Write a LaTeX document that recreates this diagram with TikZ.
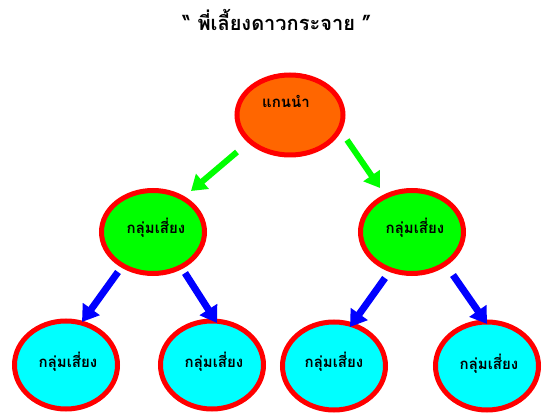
\documentclass[tikz,border=0pt]{standalone}
\usepackage{fontspec}
\newfontfamily\thaifont[Script=Thai]{Loma}
\usetikzlibrary{shapes.geometric,arrows.meta}
\definecolor{nodeorange}{RGB}{255,102,0}
\definecolor{nodegreen}{RGB}{0,255,0}
\definecolor{nodecyan}{RGB}{0,255,255}
\definecolor{bordred}{RGB}{255,0,0}
\definecolor{arrgreen}{RGB}{0,255,0}
\definecolor{arrblue}{RGB}{0,0,255}
\tikzset{
  blob/.style={ellipse, draw=bordred, line width=5pt, inner sep=0pt,
    font=\thaifont\bfseries\fontsize{15}{18}\selectfont},
  leader/.style={blob, fill=nodeorange, minimum width=106pt, minimum height=80pt},
  midgrp/.style={blob, fill=nodegreen, minimum width=103pt, minimum height=83pt},
  lowgrp/.style={blob, fill=nodecyan, minimum width=103pt, minimum height=88pt},
  garrow/.style={draw=arrgreen, line width=6pt, -{Triangle[width=19pt,length=15pt]}},
  barrow/.style={draw=arrblue, line width=7pt, -{Triangle[width=20pt,length=16pt]}},
  titletext/.style={font=\thaifont\bfseries\fontsize{20}{24}\selectfont}
}
\begin{document}
\begin{tikzpicture}[x=1pt,y=-1pt]
\useasboundingbox (0,0) rectangle (542,414);
\node[titletext] (title) at (277,20) {“ พี่เลี้ยงดาวกระจาย ”};
\node[leader] (top) at (290,115) {};
\node[midgrp] (gl) at (153,232) {};
\node[midgrp] (gr) at (412,232) {};
\node[lowgrp] (b1) at (66,365) {};
\node[lowgrp] (b2) at (212,365) {};
\node[lowgrp] (b3) at (334,366) {};
\node[lowgrp] (b4) at (487,366) {};
\node[font=\thaifont\bfseries\fontsize{15}{18}\selectfont] (ttop) at (286,101) {แกนนำ};
\node[font=\thaifont\bfseries\fontsize{15}{18}\selectfont] (tgl) at (156,228) {กลุ่มเสี่ยง};
\node[font=\thaifont\bfseries\fontsize{15}{18}\selectfont] (tgr) at (415,228) {กลุ่มเสี่ยง};
\node[font=\thaifont\bfseries\fontsize{15}{18}\selectfont] (tb1) at (68,362) {กลุ่มเสี่ยง};
\node[font=\thaifont\bfseries\fontsize{15}{18}\selectfont] (tb2) at (214,362) {กลุ่มเสี่ยง};
\node[font=\thaifont\bfseries\fontsize{15}{18}\selectfont] (tb3) at (334,362) {กลุ่มเสี่ยง};
\node[font=\thaifont\bfseries\fontsize{15}{18}\selectfont] (tb4) at (489,364) {กลุ่มเสี่ยง};
\coordinate (a1s) at (237,152); \coordinate (a1e) at (191,191);
\coordinate (a2s) at (347,140); \coordinate (a2e) at (380,188);
\coordinate (a3s) at (118,272); \coordinate (a3e) at (82,322);
\coordinate (a4s) at (185,273); \coordinate (a4e) at (217,323);
\coordinate (a5s) at (385,278); \coordinate (a5e) at (350,327);
\coordinate (a6s) at (453,275); \coordinate (a6e) at (487,324);
\draw[garrow] (a1s) -- (a1e);
\draw[garrow] (a2s) -- (a2e);
\draw[barrow] (a3s) -- (a3e);
\draw[barrow] (a4s) -- (a4e);
\draw[barrow] (a5s) -- (a5e);
\draw[barrow] (a6s) -- (a6e);
\end{tikzpicture}
\end{document}
